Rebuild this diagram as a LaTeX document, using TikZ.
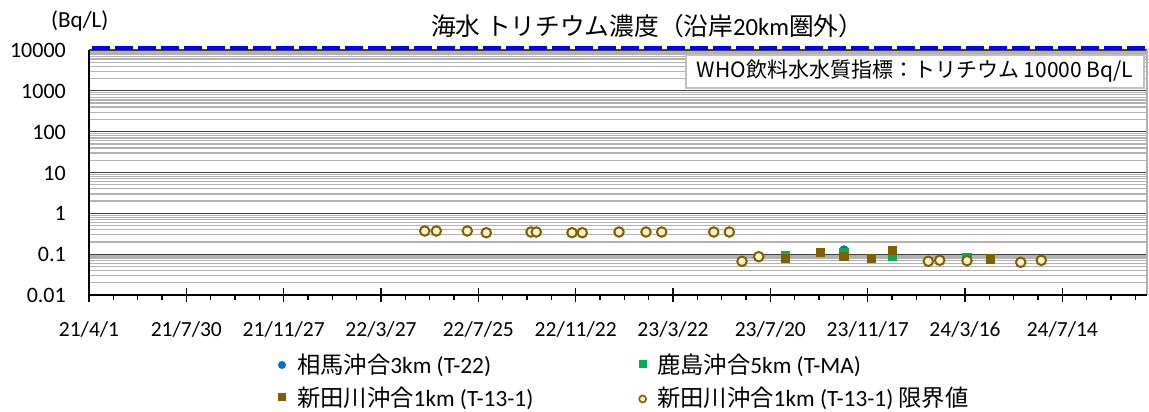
\documentclass[tikz,border=0pt]{standalone}
\usepackage{fontspec}
\setmainfont{Carlito}
\newfontfamily\cjk{Noto Sans CJK JP}
\definecolor{limc}{RGB}{127,96,0}
\definecolor{limf}{RGB}{255,242,204}
\definecolor{brnc}{RGB}{127,96,0}
\definecolor{grnc}{RGB}{0,176,80}
\definecolor{bluc}{RGB}{0,112,192}
\definecolor{whoblue}{RGB}{0,0,255}
\begin{document}
\begin{tikzpicture}[x=1pt,y=-1pt,
  minorgrid/.style={draw=black!30, line width=1.3pt},
  majorgrid/.style={draw=black!75, line width=1.3pt},
  lim/.style={circle, draw=limc, fill=limf, line width=2pt, minimum size=9.5pt, inner sep=0pt},
  brn/.style={rectangle, fill=brnc, minimum size=9.5pt, inner sep=0pt},
  grn/.style={rectangle, fill=grnc, minimum size=9.5pt, inner sep=0pt},
  blu/.style={circle, fill=bluc, minimum size=9.5pt, inner sep=0pt},
  ylab/.style={anchor=base east, inner sep=0pt, font=\fontsize{22}{24}\selectfont},
  xlab/.style={anchor=base, inner sep=0pt, font=\fontsize{21.5}{23}\selectfont},
  leg/.style={anchor=west, inner sep=0pt, font=\fontsize{23.3}{26}\selectfont},
]
\useasboundingbox (0,0) rectangle (1149,412);
\fill[white] (0,0) rectangle (1149,412);
% minor grid
\foreach \d in {0,...,5} {
  \foreach \m in {2,...,9} {
    \pgfmathsetmacro\yy{50+40.833*(\d+1)-40.833*ln(\m)/ln(10)}
    \draw[minorgrid] (89,\yy) -- (1147,\yy);
  }
}
% major grid
\foreach \k in {0,...,5} {
  \draw[majorgrid] (89,{50+40.833*\k}) -- (1147,{50+40.833*\k});
}
% right border
\draw[black!30, line width=1.2pt] (1147,50) -- (1147,295);
% axes
\coordinate (o) at (89,295);
\coordinate (tl) at (89,50);
\coordinate (br) at (1147,295);
\draw[black, line width=1.6pt] (tl) -- (o) -- (br);
\foreach \k in {0,...,10} {
  \draw[black, line width=1.4pt] ({89+97.333*\k},288) -- ({89+97.333*\k},302);
}
\foreach \j in {1,...,43} {
  \pgfmathtruncatemacro\r{mod(\j,4)}
  \ifnum\r>0
    \draw[black, line width=1.2pt] ({89+24.333*\j},295) -- ({89+24.333*\j},300);
  \fi
}
% WHO line
\coordinate (wl) at (89,48);
\coordinate (wr) at (1149,48);
\draw[whoblue, line width=4pt, dash pattern=on 18pt off 5pt, dash phase=-3pt] (wl) -- (wr);
% y labels
\node[ylab] (y0) at (66,57.5) {10000};
\node[ylab] (y1) at (66,98.3) {1000};
\node[ylab] (y2) at (66,139.2) {100};
\node[ylab] (y3) at (66,180) {10};
\node[ylab] (y4) at (66,220.8) {1};
\node[ylab] (y5) at (66,261.7) {0.1};
\node[ylab] (y6) at (66,302.5) {0.01};
\node[anchor=base west, inner sep=0pt, font=\fontsize{23}{25}\selectfont] (unit) at (51,28) {(Bq/L)};
% x labels
\node[xlab] (x0) at (89,336) {21/4/1};
\node[xlab] (x1) at (186.3,336) {21/7/30};
\node[xlab] (x2) at (283.7,336) {21/11/27};
\node[xlab] (x3) at (381,336) {22/3/27};
\node[xlab] (x4) at (478.3,336) {22/7/25};
\node[xlab] (x5) at (575.7,336) {22/11/22};
\node[xlab] (x6) at (673,336) {23/3/22};
\node[xlab] (x7) at (770.3,336) {23/7/20};
\node[xlab] (x8) at (867.7,336) {23/11/17};
\node[xlab] (x9) at (965,336) {24/3/16};
\node[xlab] (x10) at (1062.3,336) {24/7/14};
% title
\node[anchor=base west, inner sep=0pt, font=\fontsize{24.7}{26}\selectfont] (title) at (431,36) {{\cjk 海水 トリチウム濃度（沿岸}20km{\cjk 圏外）}};
% WHO box
\node[draw=black!25, line width=1.6pt, fill=white, minimum width=458pt, minimum height=33pt, inner sep=0pt, font=\cjk\fontsize{21}{23}\selectfont] (who) at (915,71.5) {WHO飲料水水質指標：トリチウム 10000 Bq/L};
% data: blue
\node[blu] (b1) at (844,250) {};
% green
\node[grn] (g1) at (785.7,255.5) {};
\node[grn] (g2) at (844,253) {};
\node[grn] (g3) at (892.3,256) {};
\node[grn] (g4) at (967,257.5) {};
% brown
\node[brn] (n1) at (785.7,258.3) {};
\node[brn] (n2) at (820.7,252.3) {};
\node[brn] (n3) at (844,256.7) {};
\node[brn] (n4) at (871.3,258.7) {};
\node[brn] (n5) at (892.3,250.7) {};
\node[brn] (n6) at (990.7,259) {};
% limit circles
\node[lim] (l1) at (424.7,231) {};
\node[lim] (l2) at (436.3,231) {};
\node[lim] (l3) at (467.3,231) {};
\node[lim] (l4) at (486.3,232.7) {};
\node[lim] (l5) at (531,232) {};
\node[lim] (l6) at (536.3,232) {};
\node[lim] (l7) at (572,232.7) {};
\node[lim] (l8) at (582.3,232.7) {};
\node[lim] (l9) at (619,232) {};
\node[lim] (l10) at (646,232) {};
\node[lim] (l11) at (661.7,232) {};
\node[lim] (l12) at (713.7,232) {};
\node[lim] (l13) at (729.3,232) {};
\node[lim] (l14) at (742,261.3) {};
\node[lim] (l15) at (758.7,256.7) {};
\node[lim] (l16) at (928.3,261.3) {};
\node[lim] (l17) at (939.7,260.3) {};
\node[lim] (l18) at (967,260.7) {};
\node[lim] (l19) at (1020.7,262.3) {};
\node[lim] (l20) at (1041.3,260.3) {};
% legend
\node[blu, minimum size=8pt] (lb) at (282,365) {};
\node[leg] (tb) at (297,365) {{\cjk 相馬沖合}3km (T-22)};
\node[grn, minimum size=8pt] (lg) at (642.7,364) {};
\node[leg] (tg) at (657,365) {{\cjk 鹿島沖合}5km (T-MA)};
\node[brn, minimum size=8pt] (ln) at (282,397) {};
\node[leg] (tn) at (297,398) {{\cjk 新田川沖合}1km (T-13-1)};
\node[lim, minimum size=7pt, line width=1.6pt] (ll) at (642.7,399) {};
\node[leg] (tl2) at (657,398) {{\cjk 新田川沖合}1km (T-13-1) {\cjk 限界値}};
\end{tikzpicture}
\end{document}
